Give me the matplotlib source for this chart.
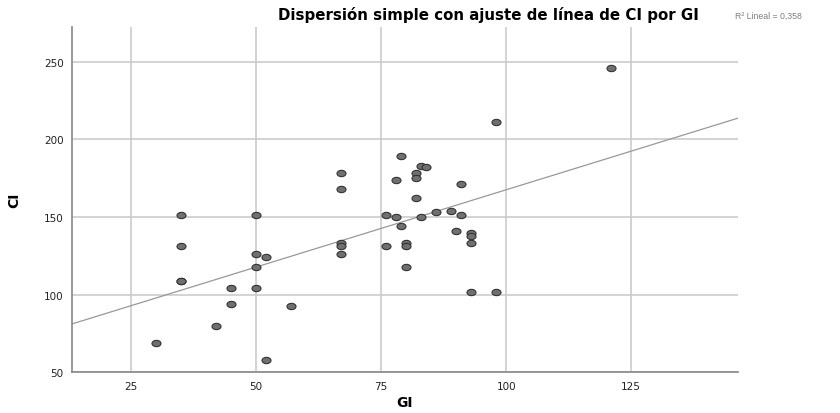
import numpy as np
import matplotlib
matplotlib.use("Agg")
import matplotlib.pyplot as plt
from matplotlib.path import Path
from matplotlib.transforms import Affine2D

plt.rcParams['font.family'] = ['DejaVu Sans']

gi = [35, 35, 35, 35, 50, 50, 52, 50, 45, 50, 45, 42, 30, 52,
      98, 79, 67, 67, 83, 84, 82, 82, 78, 91, 82, 76, 78, 83, 86, 89, 91,
      79, 90, 93, 93, 93, 67, 67, 67, 76, 80, 80, 80, 93, 98, 57, 121]
ci = [151, 131, 109, 109, 151, 126, 124, 118, 104, 104, 94, 80, 69, 58,
      211, 189, 178, 168, 183, 182, 178, 175, 174, 171, 162, 151, 150, 150, 153, 154, 151,
      144, 141, 140, 138, 133, 133, 131, 126, 131, 133, 131, 118, 102, 102, 93, 246]

# linear fit as shown in the chart
fit_intercept = 68.0
fit_slope = 0.995

x_ticks = [25, 50, 75, 100, 125]
y_ticks = [50, 100, 150, 200, 250]
title = "Dispersión simple con ajuste de línea de CI por GI"
r2_label = "R² Lineal = 0,358"

fig = plt.figure(figsize=(8.4, 4.14), dpi=100)
ax = fig.add_axes([72/840, 1-373.3/414, (737.7-72)/840, (373.3-28)/414])
xlim = (13.2, 146.3)
ylim = (50, 272.3)
ax.set_xlim(*xlim)
ax.set_ylim(*ylim)

ax.grid(True, color='#c8c8c8', lw=1.1, zorder=0)
ax.set_axisbelow(True)
ax.set_xticks(x_ticks)
ax.set_yticks(y_ticks)
ax.tick_params(length=0, labelsize=7.5, colors='#222222', pad=6)
for s in ['top', 'right']:
    ax.spines[s].set_visible(False)
for s in ['left', 'bottom']:
    ax.spines[s].set_color('#888888')
    ax.spines[s].set_linewidth(1.2)

xs = np.array(xlim)
ax.plot(xs, fit_intercept + fit_slope * xs, color='#999999', lw=0.9, zorder=2)

circ = Path.unit_circle()
ell = circ.transformed(Affine2D().scale(1.0, 0.7))
ax.scatter(gi, ci, marker=ell, s=42, facecolor='#707070', edgecolor='#333333',
           linewidths=0.8, zorder=3)

ax.set_xlabel('GI', fontsize=10, fontweight='bold', labelpad=3)
ax.set_ylabel('CI', fontsize=10, fontweight='bold', labelpad=16)

fig.text(488/840, 1-15/414, title, ha='center', va='center', fontsize=10.8, fontweight='bold')
fig.text(735/840, 1-16/414, r2_label, ha='left', va='center', fontsize=6.3, color='#808080',
         family=['Liberation Sans', 'DejaVu Sans'])

fig.savefig('out.png', dpi=100)
